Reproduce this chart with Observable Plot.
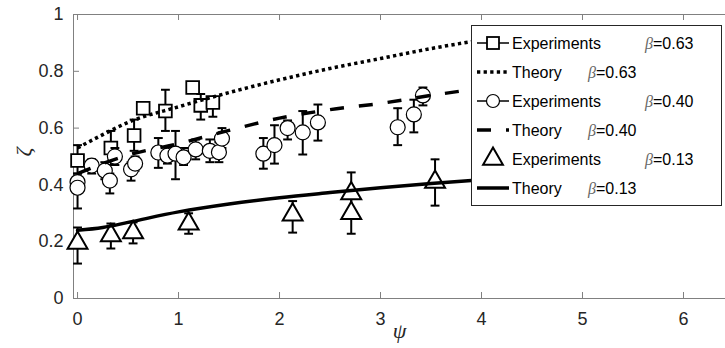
<!DOCTYPE html>
<html><head><meta charset="utf-8">
<script src="https://cdn.jsdelivr.net/npm/d3@7"></script>
<script src="https://cdn.jsdelivr.net/npm/@observablehq/plot@0.6"></script>
<style>
body{margin:0;background:#fff;}
#chart svg{display:block;}
</style></head><body><div id="chart"></div>
<script>
// ---- data ----
const xTicks = [0, 1, 2, 3, 4, 5, 6];
const yTicks = [0, 0.2, 0.4, 0.6, 0.8, 1];
const xDomain = [-0.04, 6.416];
const yDomain = [0, 1];

// Experiments beta=0.63 (squares)
const sqX   = [0, 0.33, 0.56, 0.65, 0.87, 1.14, 1.22, 1.34];
const sqY   = [0.486, 0.53, 0.574, 0.67, 0.66, 0.743, 0.68, 0.69];
const sqLo  = [0.44, 0.47, 0.52, 0.65, 0.59, 0.73, 0.63, 0.64];
const sqHi  = [0.54, 0.59, 0.63, 0.69, 0.735, 0.755, 0.72, 0.71];

// Experiments beta=0.40 (circles)
const ciX  = [0, 0, 0.14, 0.27, 0.32, 0.37, 0.53, 0.57, 0.8, 0.89, 0.97, 1.05, 1.17, 1.31, 1.4, 1.43, 1.84, 1.95, 2.08, 2.23, 2.38, 3.17, 3.33, 3.42];
const ciY  = [0.41, 0.39, 0.468, 0.45, 0.415, 0.5, 0.455, 0.475, 0.514, 0.503, 0.51, 0.497, 0.525, 0.52, 0.515, 0.563, 0.51, 0.54, 0.6, 0.585, 0.62, 0.603, 0.648, 0.715];
const ciLo = [0.38, 0.317, 0.44, 0.42, 0.37, 0.47, 0.415, 0.45, 0.46, 0.475, 0.42, 0.47, 0.49, 0.48, 0.48, 0.53, 0.457, 0.475, 0.56, 0.507, 0.556, 0.54, 0.585, 0.68];
const ciHi = [0.44, 0.42, 0.49, 0.48, 0.44, 0.53, 0.48, 0.5, 0.565, 0.53, 0.59, 0.53, 0.56, 0.56, 0.55, 0.6, 0.565, 0.61, 0.627, 0.66, 0.683, 0.67, 0.70, 0.743];

// Experiments beta=0.13 (triangles)
const trX  = [0, 0.33, 0.55, 1.1, 2.13, 2.71, 2.71, 3.54];
const trY  = [0.195, 0.222, 0.232, 0.263, 0.295, 0.37, 0.30, 0.41];
const trLo = [0.123, 0.176, 0.194, 0.228, 0.232, 0.30, 0.228, 0.327];
const trHi = [0.25, 0.264, 0.268, 0.30, 0.343, 0.444, 0.36, 0.49];

// Theory curves
const thX    = [0, 0.25, 0.5, 1, 1.5, 2, 2.5, 3, 3.5, 4, 4.5, 5];
const th063  = [0.53, 0.577, 0.62, 0.675, 0.725, 0.77, 0.81, 0.845, 0.88, 0.91, 0.935, 0.955];
const th040  = [0.44, 0.475, 0.505, 0.545, 0.592, 0.635, 0.665, 0.687, 0.715, 0.74, 0.76, 0.78];
const th013  = [0.24, 0.25, 0.268, 0.305, 0.333, 0.355, 0.373, 0.39, 0.405, 0.418, 0.43, 0.44];

const legendNames = ["Experiments", "Theory", "Experiments", "Theory", "Experiments", "Theory"];
const legendBetas = ["0.63", "0.63", "0.40", "0.40", "0.13", "0.13"];
const xLabel = "ψ";
const yLabel = "ζ";

// ---- build tables ----
const toRows = (X, Y, L, Hh) => X.map((x, i) => ({x, y: Y[i], lo: L ? L[i] : null, hi: Hh ? Hh[i] : null}));
const squares = toRows(sqX, sqY, sqLo, sqHi);
const circles = toRows(ciX, ciY, ciLo, ciHi);
const triangles = toRows(trX, trY, trLo, trHi);
const t063 = toRows(thX, th063);
const t040 = toRows(thX, th040);
const t013 = toRows(thX, th013);

const W = 725, H = 348, mL = 73, mR = 0, mT = 14, mB = 50;
const plotW = W - mL - mR, plotH = H - mT - mB;
const axisColor = "#808080";
const textColor = "#262626";
const dotted = "3.3,3.3", dashed = "14,15";

const cap = {draw(ctx, size) { const w = Math.sqrt(size) / 2; ctx.moveTo(-w, 0); ctx.lineTo(w, 0); }};

function errorSeries(rows, symbol, r, sw) {
  return [
    Plot.ruleX(rows, {x: "x", y1: "lo", y2: "hi", stroke: "black", strokeWidth: 2}),
    Plot.dot(rows, {x: "x", y: "lo", symbol: cap, r: 5, stroke: "black", strokeWidth: 2}),
    Plot.dot(rows, {x: "x", y: "hi", symbol: cap, r: 5, stroke: "black", strokeWidth: 2}),
    Plot.dot(rows, {x: "x", y: "y", symbol, r, fill: "white", stroke: "black", strokeWidth: sw})
  ];
}

const plot = Plot.plot({
  width: W, height: H,
  marginLeft: mL, marginRight: mR, marginTop: mT, marginBottom: mB,
  style: {fontFamily: "'Liberation Sans', Arial, sans-serif", fontSize: "18px", color: textColor, background: "#fff"},
  x: {domain: xDomain},
  y: {domain: yDomain},
  marks: [
    // axis lines
    Plot.ruleX([xDomain[0]], {stroke: axisColor, strokeWidth: 1}),
    Plot.ruleY([yDomain[0], yDomain[1]], {stroke: axisColor, strokeWidth: 1}),
    // inward ticks
    Plot.tickX(xTicks, {x: d => d, insetTop: plotH - 6, stroke: axisColor}),
    Plot.tickX(xTicks, {x: d => d, insetBottom: plotH - 6, stroke: axisColor}),
    Plot.tickY(yTicks, {y: d => d, insetRight: plotW - 6, stroke: axisColor}),
    Plot.axisX(xTicks, {tickSize: 0, tickPadding: 14, label: null, tickFormat: d => String(d), fill: textColor, fontSize: 18}),
    Plot.axisY(yTicks, {tickSize: 0, tickPadding: 10, label: null, tickFormat: d => String(d), fill: textColor, fontSize: 18}),
    // series in legend order
    ...errorSeries(squares, "square", 7.2, 1.8),
    Plot.line(t063, {x: "x", y: "y", curve: "monotone-x", stroke: "black", strokeWidth: 3.5, strokeDasharray: dotted, strokeLinecap: "butt"}),
    ...errorSeries(circles, "circle", 7.5, 1.2),
    Plot.line(t040, {x: "x", y: "y", curve: "monotone-x", stroke: "black", strokeWidth: 3.5, strokeDasharray: dashed, strokeLinecap: "butt"}),
    ...errorSeries(triangles, "triangle", 7.4, 2),
    Plot.line(t013, {x: "x", y: "y", curve: "monotone-x", stroke: "black", strokeWidth: 3.5}),
    // axis titles
    Plot.text([xLabel], {frameAnchor: "bottom", dy: 39, fontFamily: "'Liberation Serif', serif", fontStyle: "italic", fontSize: 22, fill: textColor}),
    Plot.text([yLabel], {frameAnchor: "left", dx: -50, rotate: -90, fontFamily: "'Liberation Serif', serif", fontStyle: "italic", fontSize: 22, fill: textColor})
  ]
});

document.getElementById("chart").appendChild(plot);

// ---- legend ----
const svg = d3.select(plot);
const lg = svg.append("g").attr("class", "legend").attr("text-anchor", "start");
lg.append("rect").attr("x", 471.5).attr("y", 25.5).attr("width", 250).attr("height", 180)
  .style("fill", "white").style("stroke", "#262626").style("stroke-width", "1px");
const rowY = [43, 72, 101, 130, 159, 188];
const sx0 = 477, sx1 = 509, sxc = 493;
legendNames.forEach((name, i) => {
  const y = rowY[i];
  const g = lg.append("g");
  if (i === 0 || i === 2) {
    g.append("line").attr("x1", sx0).attr("x2", sx1).attr("y1", y).attr("y2", y).attr("stroke", "black").attr("stroke-width", 1.5);
    if (i === 0) g.append("rect").attr("x", sxc - 6).attr("y", y - 6).attr("width", 12).attr("height", 12).style("fill", "white").attr("stroke", "black").attr("stroke-width", 1.8);
    else g.append("circle").attr("cx", sxc).attr("cy", y).attr("r", 6.5).style("fill", "white").attr("stroke", "black").attr("stroke-width", 1.2);
  } else if (i === 4) {
    g.append("path").attr("d", d3.symbol(d3.symbolTriangle, 170)()).attr("transform", `translate(${sxc},${y})`).style("fill", "white").attr("stroke", "black").attr("stroke-width", 2);
  } else {
    const dash = i === 1 ? dotted : (i === 3 ? dashed : null);
    const l = g.append("line").attr("x1", sx0).attr("x2", sx1).attr("y1", y).attr("y2", y).attr("stroke", "black").attr("stroke-width", 3.5).attr("stroke-linecap", "butt");
    if (dash) l.attr("stroke-dasharray", dash);
  }
  g.append("text").attr("x", 512).attr("y", y).attr("dy", "0.35em").attr("text-anchor", "start")
    .attr("font-family", "'Liberation Sans', Arial, sans-serif").attr("font-size", 16).attr("fill", "black").text(name);
  const t = g.append("text").attr("x", i % 2 === 0 ? 645 : 588).attr("y", y).attr("dy", "0.35em").attr("text-anchor", "start")
    .attr("font-family", "'Liberation Sans', Arial, sans-serif").attr("font-size", 16).attr("fill", "black");
  t.append("tspan").attr("font-family", "'Liberation Serif', serif").attr("font-style", "italic").attr("fill", "#666").text("β");
  t.append("tspan").text("=" + legendBetas[i]);
});
</script></body></html>
